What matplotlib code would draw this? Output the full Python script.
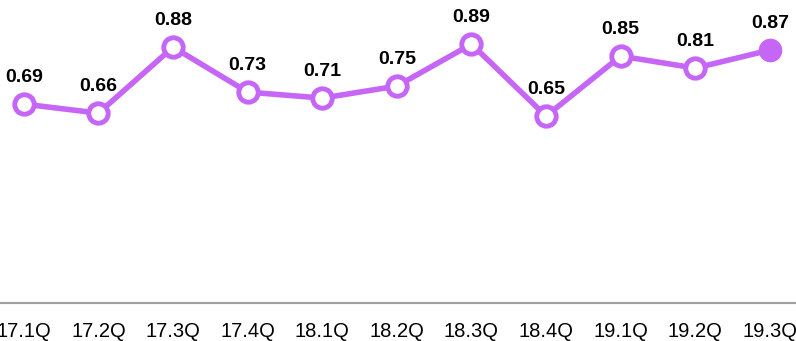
import matplotlib.pyplot as plt

plt.rcParams["font.family"] = ["Liberation Sans", "DejaVu Sans"]

quarters = ["17.1Q", "17.2Q", "17.3Q", "17.4Q", "18.1Q", "18.2Q",
            "18.3Q", "18.4Q", "19.1Q", "19.2Q", "19.3Q"]
values = [0.69, 0.66, 0.88, 0.73, 0.71, 0.75, 0.89, 0.65, 0.85, 0.81, 0.87]

purple = "#C566F7"

fig = plt.figure(figsize=(7.96, 3.41), dpi=100)
ax = fig.add_axes([0, 38 / 341, 1, 303 / 341])

x = range(len(quarters))
ax.plot(x, values, color=purple, linewidth=4, zorder=2)
ax.plot(list(x)[:-1], values[:-1], "o", markersize=14, markerfacecolor="white",
        markeredgecolor=purple, markeredgewidth=3.5, zorder=3)
ax.plot(len(values) - 1, values[-1], "o", markersize=16, color=purple, zorder=3)

for i, v in enumerate(values):
    ax.annotate(f"{v:.2f}", (i, v), xytext=(0, 13), textcoords="offset points",
                ha="center", va="bottom", fontsize=14, fontweight="bold")

ax.set_xlim(-0.32, 10.35)
ax.set_ylim(0.027, 1.037)
ax.set_xticks(list(x))
ax.set_xticklabels(quarters, fontsize=14.5)
ax.tick_params(axis="x", length=0, pad=14)
ax.set_yticks([])
for side in ["top", "left", "right"]:
    ax.spines[side].set_visible(False)
ax.spines["bottom"].set_color("#A0A0A0")
ax.spines["bottom"].set_linewidth(1.5)

fig.savefig("out.png", dpi=100)
